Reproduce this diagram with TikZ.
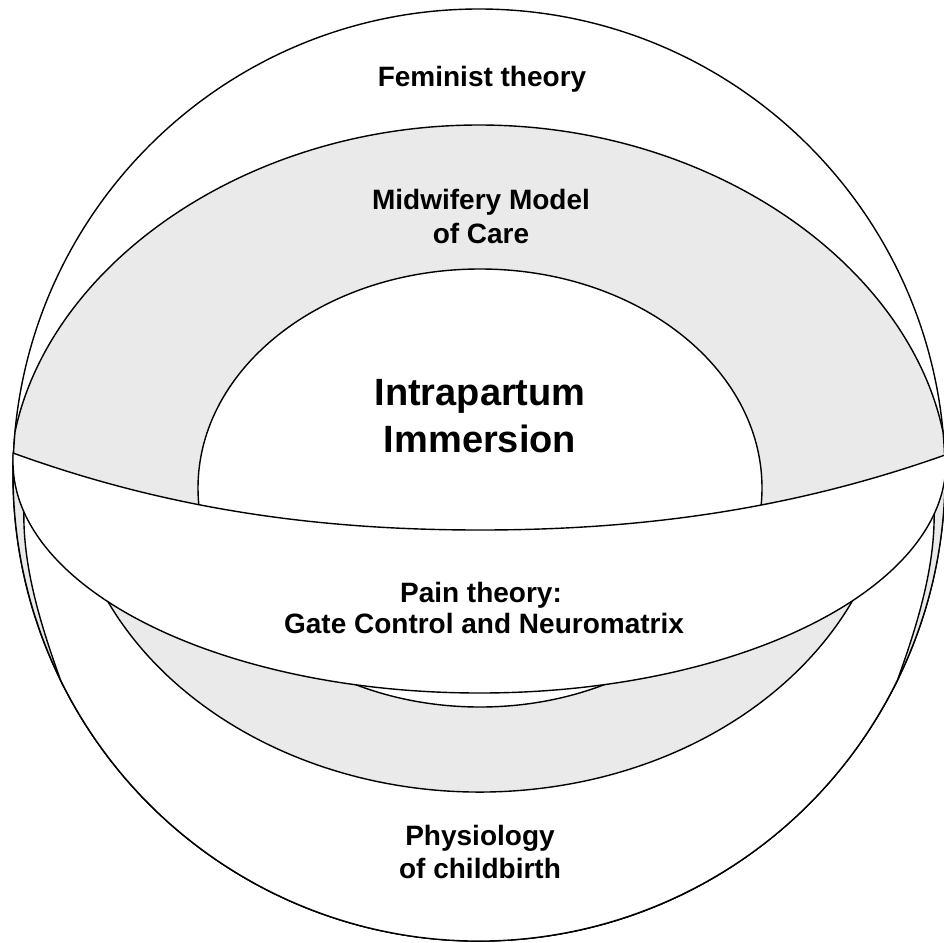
\documentclass[tikz,border=0pt]{standalone}
\usepackage{fontspec}
\setmainfont{Liberation Sans}
\definecolor{mwgrey}{RGB}{234,234,234}
\begin{document}
\begin{tikzpicture}[x=1pt,y=-1pt,line width=1.4pt,line join=round,
  shapeline/.style={draw=black,line width=1.4pt},
  lbl/.style={font=\fontsize{28}{34}\selectfont\bfseries,anchor=base,inner sep=0pt},
  biglbl/.style={font=\fontsize{38}{46}\selectfont\bfseries,anchor=base,inner sep=0pt}]
\useasboundingbox (0,0) rectangle (944,942);
% Feminist theory: outer circle
\path[shapeline,fill=white] (479,475) circle[radius=466];
% Midwifery Model of Care: grey shape
\path[shapeline,fill=mwgrey] (15,432) .. controls (50,265) and (245,125) .. (479,125)
  .. controls (713,125) and (908,265) .. (943,432)
  arc[start angle=-5.29,end angle=185.29,radius=466] -- cycle;
% Intrapartum Immersion: inner ellipse
\path[shapeline,fill=white] (480,488) ellipse[x radius=282,y radius=219];
% Physiology of childbirth
\path[shapeline,fill=white] ([shift={(170:412 and 334)}]480,458)
  arc[start angle=170,end angle=10,x radius=412,y radius=334]
  -- (934,505) .. controls (936,560) and (921,615) .. ([shift={(26.1:466)}]479,475)
  arc[start angle=26.1,end angle=153.9,radius=466]
  .. controls (37,615) and (22,560) .. (24,505) -- cycle;
% Pain theory band
\path[shapeline,fill=white] (13,453) .. controls (170,510) and (320,530) .. (480,530)
  .. controls (640,530) and (790,510) .. (945,455)
  -- (946,462) arc[start angle=0,end angle=180,x radius=466.5,y radius=231] -- cycle;
% labels
\node[lbl] (fem) at (482,86) {Feminist theory};
\node[lbl] (mid1) at (481,209) {Midwifery Model};
\node[lbl] (mid2) at (481,243) {of Care};
\node[biglbl] (int1) at (480,405) {Intrapartum};
\node[biglbl] (int2) at (480,452) {Immersion};
\node[lbl] (pain1) at (481,602) {Pain theory:};
\node[lbl] (pain2) at (484,633) {Gate Control and Neuromatrix};
\node[lbl] (phy1) at (480,845) {Physiology};
\node[lbl] (phy2) at (480,878) {of childbirth};
\end{tikzpicture}
\end{document}
